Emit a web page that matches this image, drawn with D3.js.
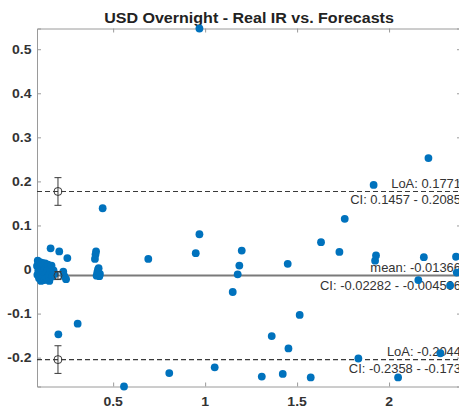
<!DOCTYPE html>
<html>
<head>
<meta charset="utf-8">
<script src="https://cdn.jsdelivr.net/npm/d3@7"></script>
<style>
  html, body { margin: 0; padding: 0; background: #fff; }
  svg { display: block; }
  text { font-family: "Liberation Sans", Arial, Helvetica, sans-serif; }
</style>
</head>
<body>
<svg id="chart" width="459" height="410"></svg>
<script>
// Mean of the two methods (x) and their difference (y)
const meanValues = [
  0.086, 0.088, 0.090, 0.093, 0.095, 0.097, 0.100, 0.103, 0.105, 0.108,
  0.110, 0.113, 0.115, 0.118, 0.120, 0.123, 0.126, 0.128, 0.131, 0.134,
  0.137, 0.140, 0.143, 0.146, 0.150, 0.153, 0.157, 0.160, 0.165, 0.170,
  0.176, 0.182, 0.229, 0.244, 0.251, 0.160, 0.207, 0.235,
  0.407, 0.404, 0.401, 0.421, 0.414, 0.428, 0.410, 0.425, 0.418, 0.443,
  0.969, 0.559, 0.691, 0.969, 0.949, 1.199, 1.186, 1.177, 1.150, 1.449,
  1.514, 1.362, 1.453, 0.202, 0.307, 0.805, 1.052, 1.308, 1.422, 1.574,
  1.833, 2.049, 2.279, 2.214, 1.916, 1.759, 1.630, 1.730, 1.929, 1.924,
  2.189, 2.364, 2.368, 2.159, 2.332, 2.391
];
const diffValues = [
  0.008, -0.012, 0.020, -0.003, 0.013, -0.020, 0.004, 0.017, -0.010, -0.026,
  0.008, 0.000, 0.015, -0.015, -0.005, 0.010, -0.024, 0.002, 0.014, -0.009,
  -0.018, 0.006, -0.003, 0.011, -0.013, -0.026, 0.002, -0.007, 0.009, -0.016,
  -0.002, -0.010, -0.005, -0.022, 0.026, 0.048, 0.041, -0.015,
  0.041, 0.034, 0.024, 0.003, -0.006, -0.010, -0.014, -0.015, 0.000, 0.139,
  0.547, -0.2655, 0.024, 0.080, 0.037, 0.043, 0.009, -0.011, -0.051, 0.013,
  -0.103, -0.151, -0.179, -0.147, -0.123, -0.235, -0.222, -0.243, -0.237, -0.245,
  -0.202, -0.245, -0.190, 0.253, 0.192, 0.115, 0.062, 0.040, 0.032, 0.020,
  0.028, 0.029, -0.007, -0.024, -0.036, -0.004
];

// Bland-Altman statistics
const meanDiff = -0.01366;
const meanCI = [-0.02282, -0.004506];
const loaUpper = 0.1771;
const loaUpperCI = [0.1457, 0.2085];
const loaLower = -0.2044;
const loaLowerCI = [-0.2358, -0.1730];
const ciMarkerX = 0.2;

const xTicks = [0.5, 1, 1.5, 2];
const yTicks = [-0.2, -0.1, 0, 0.1, 0.2, 0.3, 0.4, 0.5];
const titleText = "USD Overnight - Real IR vs. Forecasts";

const fmt = d3.formatLocale({decimal: ".", thousands: ",", grouping: [3], currency: ["", ""], minus: "-"});
const num = fmt.format(".4~g");
const tickFmt = fmt.format("~g");

const svg = d3.select("#chart");
const plotLeft = 37, plotRight = 461, plotTop = 28.5, plotBottom = 386.5;
const textStretch = 1.08;

const points = meanValues.map((v, i) => ({x: v, y: diffValues[i]}));
const x = d3.scaleLinear().domain(d3.extent(meanValues)).range([plotLeft, plotRight]);
const y = d3.scaleLinear().domain(d3.extent(diffValues)).range([plotBottom, plotTop]);

const axisColor = "#9a9a9a";
const labelColor = "#333";

function label(g, px, py, str, opts) {
  return g.append("text")
    .attr("transform", `translate(${px},${py}) scale(${opts.sx || textStretch},1)`)
    .attr("text-anchor", opts.anchor || "start")
    .attr("font-size", opts.size)
    .attr("font-weight", opts.weight || "normal")
    .attr("fill", opts.fill || labelColor)
    .text(str);
}

// axes (box with inward ticks)
const axB = d3.axisBottom(x).tickValues(xTicks).tickSize(-4).tickFormat("");
const axT = d3.axisTop(x).tickValues(xTicks).tickSize(-4).tickFormat("");
const axL = d3.axisLeft(y).tickValues(yTicks).tickSize(-4).tickFormat("");
const axR = d3.axisRight(y).tickValues(yTicks).tickSize(-4).tickFormat("");
const axes = svg.append("g");
axes.append("g").attr("transform", `translate(0,${plotBottom})`).call(axB);
axes.append("g").attr("transform", `translate(0,${plotTop})`).call(axT);
axes.append("g").attr("transform", `translate(${plotLeft},0)`).call(axL);
axes.append("g").attr("transform", `translate(${plotRight},0)`).call(axR);
axes.selectAll("path.domain").attr("stroke", axisColor).attr("stroke-width", 1);
axes.selectAll(".tick line").attr("stroke", axisColor);

const tl = svg.append("g");
xTicks.forEach(v => label(tl, x(v), 406, tickFmt(v), {anchor: "middle", size: 13, weight: "bold"}));
yTicks.forEach(v => label(tl, 31.5, y(v) + 4.6, tickFmt(v), {anchor: "end", size: 13, weight: "bold"}));

// title
label(svg, (plotLeft + plotRight) / 2, 22.5, titleText, {anchor: "middle", size: 14.6, weight: "bold", fill: "#222", sx: 1.1});

// reference lines
const lines = svg.append("g");
lines.append("line").attr("x1", plotLeft).attr("x2", plotRight)
  .attr("y1", y(meanDiff)).attr("y2", y(meanDiff))
  .attr("stroke", "#7a7a7a").attr("stroke-width", 2);
[loaUpper, loaLower].forEach(v => {
  lines.append("line").attr("x1", plotLeft).attr("x2", plotRight)
    .attr("y1", y(v)).attr("y2", y(v))
    .attr("stroke", "#3a3a3a").attr("stroke-width", 1.1)
    .attr("stroke-dasharray", "5,3");
});

// annotations
const ann = svg.append("g");
const annSize = 12;
label(ann, plotRight, y(loaUpper) - 3, `LoA: ${num(loaUpper)}`, {anchor: "end", size: annSize});
label(ann, plotRight, y(loaUpper) + 12.5, `CI: ${num(loaUpperCI[0])} - ${num(loaUpperCI[1])}`, {anchor: "end", size: annSize});
label(ann, plotRight, y(meanDiff) - 4, `mean: ${num(meanDiff)}`, {anchor: "end", size: annSize});
label(ann, plotRight, y(meanDiff) + 14, `CI: ${num(meanCI[0])} - ${num(meanCI[1])}`, {anchor: "end", size: annSize});
label(ann, plotRight, y(loaLower) - 4, `LoA: ${num(loaLower)}`, {anchor: "end", size: annSize});
label(ann, plotRight, y(loaLower) + 13.5, `CI: ${num(loaLowerCI[0])} - ${num(loaLowerCI[1])}`, {anchor: "end", size: annSize});

// data points
svg.append("g").selectAll("circle").data(points).join("circle")
  .attr("cx", d => x(d.x)).attr("cy", d => y(d.y)).attr("r", 3.9)
  .attr("fill", "#0072BD");

// confidence intervals with open markers
const ci = svg.append("g").attr("stroke", "#3a3a3a").attr("fill", "none").attr("stroke-width", 1);
[[meanDiff, meanCI], [loaUpper, loaUpperCI], [loaLower, loaLowerCI]].forEach(([v, [lo, hi]]) => {
  const cx = x(ciMarkerX);
  ci.append("line").attr("x1", cx).attr("x2", cx).attr("y1", y(lo)).attr("y2", y(hi));
  [lo, hi].forEach(b => ci.append("line").attr("x1", cx - 3.5).attr("x2", cx + 3.5).attr("y1", y(b)).attr("y2", y(b)));
  ci.append("circle").attr("cx", cx).attr("cy", y(v)).attr("r", 4).attr("fill", "none");
});
</script>
</body>
</html>
